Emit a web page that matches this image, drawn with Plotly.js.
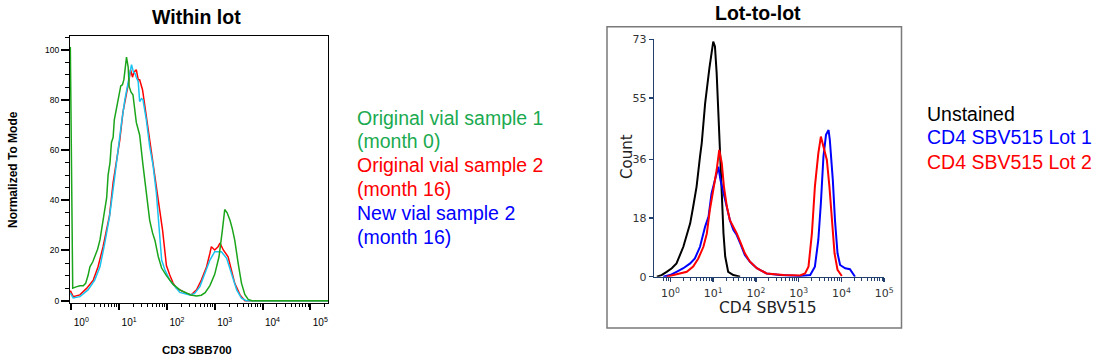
<!DOCTYPE html>
<html><head><meta charset="utf-8">
<script src="https://cdn.plot.ly/plotly-3.0.1.min.js"></script>
<style>html,body{margin:0;padding:0;background:#fff}#chart{width:1101px;height:362px}</style>
</head><body><div id="chart"></div>
<script>
// ---------- DATA (x given as log10 of intensity) ----------
const decadeTicks = [1, 10, 100, 1000, 10000, 100000];
const decadeLabels = ['10<sup>0</sup>','10<sup>1</sup>','10<sup>2</sup>','10<sup>3</sup>','10<sup>4</sup>','10<sup>5</sup>'];
const leftYTicks = [0, 20, 40, 60, 80, 100];
const rightYTicks = [0, 18, 36, 55, 73];

// Within lot (CD3 SBB700), normalized to mode
const greenLog = [-0.02,0.03,0.10,0.18,0.25,0.30,0.35,0.39,0.45,0.49,0.55,0.60,0.665,0.70,0.74,0.77,0.81,0.84,0.875,0.90,0.945,1.00,1.035,1.07,1.10,1.155,1.19,1.21,1.25,1.29,1.33,1.36,1.43,1.47,1.50,1.57,1.64,1.70,1.75,1.82,1.89,1.99,2.06,2.13,2.27,2.40,2.50,2.62,2.72,2.80,2.90,3.00,3.09,3.16,3.21,3.26,3.32,3.37,3.42,3.49,3.56,3.63,3.70,3.78,4.0,4.5,5.0,5.37];
const greenVal = [101,5,5.5,5.9,5.9,6.9,10,13.5,15.5,17.5,20.5,24.2,32,37,41,50,55,63,65,72,77,82.6,85.5,86,88,97,93,85.3,83,82,76,71,66,58,54,43,32,27,24,17.5,13,10,8,6.5,4.3,3,2.3,1.9,2.2,3.2,6,10.5,17.5,28,36.3,35,32,28.5,24,15,7,2.5,0.5,0,0,0,0,0];

const redLog = [-0.02,0.04,0.18,0.32,0.46,0.56,0.665,0.80,0.875,0.945,1.015,1.08,1.155,1.20,1.24,1.28,1.31,1.36,1.40,1.43,1.49,1.57,1.64,1.68,1.75,1.78,1.85,1.91,1.96,1.99,2.06,2.13,2.20,2.30,2.41,2.51,2.62,2.72,2.83,2.90,2.93,3.00,3.07,3.11,3.18,3.28,3.35,3.42,3.53,3.63,4.0,4.5,5.0,5.37];
const redVal = [4,1.6,2.3,4.9,8.2,13.5,21.5,34,47,55,64,75,82,87,92,89,91,92,88,88,84,73,63,58,50,44,36,28,19,14,10.2,7,5,4,2.9,2.3,4.3,8.2,13.5,18.9,21.5,20.2,21.5,22.9,20.2,17.5,12.2,6.9,2.3,0,0,0,0,0];

const cyanLog = [-0.02,0.04,0.18,0.35,0.49,0.60,0.70,0.80,0.90,0.93,0.98,1.05,1.12,1.19,1.26,1.30,1.33,1.36,1.40,1.43,1.47,1.50,1.57,1.64,1.71,1.78,1.84,1.89,1.96,2.06,2.20,2.27,2.48,2.58,2.69,2.79,2.90,3.00,3.14,3.25,3.35,3.46,3.56,3.66,4.0,4.5,5.0,5.37];
const cyanVal = [3,1.1,1.6,4.3,8.2,13.5,22.8,33.5,48,53,61.4,70.7,80,86.6,94,91,90.6,89,87.2,79.3,80.5,80,72,61.4,54,42.8,27,16.2,12.2,8.2,4.9,3.3,2.3,2.9,5.6,10.9,16.2,19.5,19.5,16.9,10.9,4.3,1,0,0,0,0,0];

// Lot-to-lot (CD4 SBV515), count
const blackLog = [-0.32,-0.21,-0.09,0.03,0.14,0.22,0.30,0.38,0.46,0.53,0.61,0.69,0.73,0.81,0.85,0.91,0.96,1.00,1.04,1.08,1.12,1.16,1.20,1.24,1.28,1.35,1.47,1.63];
const blackVal = [0,0.5,1.5,2.6,4.1,6.7,9.2,12.8,16.4,21.5,27.7,36.9,41,53.3,58.5,64.1,68.7,72.3,70.8,62.6,50.3,37.9,24.6,13.3,6.2,1.5,0.5,0];

const lot1Log = [-0.17,-0.01,0.14,0.30,0.46,0.57,0.69,0.81,0.89,0.96,1.04,1.10,1.12,1.17,1.24,1.32,1.39,1.47,1.55,1.63,1.74,1.86,2.02,2.25,2.56,3.03,3.27,3.38,3.46,3.52,3.58,3.64,3.70,3.73,3.80,3.85,3.91,3.97,4.09,4.20,4.27,4.32];
const lot1Val = [0,0.5,1.5,2.6,4.1,5.6,9.2,15.4,18.5,25.6,29.7,32.3,33.8,29.7,25.6,21.5,17.4,14.4,12.8,10.3,6.7,4.6,2.6,1,0.5,0.2,0.5,3.1,11.3,22.6,36.9,43.6,45.1,42,29.7,17.4,7.2,3.6,2.6,2.3,1,0];

const lot2Log = [-0.09,0.07,0.22,0.38,0.53,0.65,0.77,0.85,0.92,1.00,1.08,1.14,1.20,1.25,1.32,1.39,1.47,1.55,1.63,1.74,1.86,2.02,2.25,2.64,3.03,3.15,3.23,3.31,3.38,3.46,3.52,3.58,3.66,3.72,3.78,3.84,3.91,4.01];
const lot2Val = [0,0.5,1,1.5,3.1,5.6,9.2,13.3,20.5,26.7,32.8,39,34.9,27.7,21.5,17.4,15.4,13.3,10.8,7.2,4.6,2.6,1,0.5,0.4,1,3.1,13.3,27.7,37.9,43.1,40,35.9,27.7,17.4,7.2,2.1,0.2];

const leftLegend = ['Original vial sample 1','(month 0)','Original vial sample 2','(month 16)','New vial sample 2','(month 16)'];
const leftLegendColors = ['#1aaa50','#1aaa50','#ff0000','#ff0000','#0000ff','#0000ff'];
const rightLegend = ['Unstained','CD4 SBV515 Lot 1','CD4 SBV515 Lot 2'];
const rightLegendColors = ['#000000','#0000ff','#ff0000'];

// ---------- helpers ----------
const W = 1101, H = 362;
const px = v => v / W;
const py = v => 1 - v / H;
const pow10 = a => a.map(v => Math.pow(10, v));
const minorLog = [];
for (let d = 0; d < 6; d++) for (let m = 2; m <= 9; m++) minorLog.push(m * Math.pow(10, d));
minorLog.unshift(0.7, 0.8, 0.9);

const traces = [
  {x: pow10(redLog), y: redVal, xaxis:'x', yaxis:'y', mode:'lines', line:{color:'#ff0000', width:1.5}},
  {x: pow10(cyanLog), y: cyanVal, xaxis:'x', yaxis:'y', mode:'lines', line:{color:'#19c3f0', width:1.5}},
  {x: pow10(greenLog), y: greenVal, xaxis:'x', yaxis:'y', mode:'lines', line:{color:'#1aa51a', width:1.5}},
  {x: pow10(blackLog), y: blackVal, xaxis:'x2', yaxis:'y2', mode:'lines', line:{color:'#000000', width:2}},
  {x: pow10(lot1Log), y: lot1Val, xaxis:'x2', yaxis:'y2', mode:'lines', line:{color:'#0000ff', width:2}},
  {x: pow10(lot2Log), y: lot2Val, xaxis:'x2', yaxis:'y2', mode:'lines', line:{color:'#ff0000', width:2}}
];

const leftYFont = {family:'Liberation Sans, Arial, sans-serif', size:8.5, color:'#000'};
const leftXFont = {family:'Liberation Sans, Arial, sans-serif', size:10, color:'#000'};
const rightFont = {family:'DejaVu Sans, Verdana, sans-serif', size:11, color:'#333'};
const navy = '#22406e';

const annotations = [
  {text:'<b>Within lot</b>', x:px(196), y:py(17), font:{family:'Liberation Sans, Arial', size:19.5, color:'#000'}},
  {text:'<b>Lot-to-lot</b>', x:px(758), y:py(13), font:{family:'Liberation Sans, Arial', size:19.5, color:'#000'}},
  {text:'<b>Normalized To Mode</b>', x:px(13), y:py(170), textangle:-90, font:{family:'Liberation Sans, Arial', size:12, color:'#000'}},
  {text:'<b>CD3 SBB700</b>', x:px(197), y:py(350), font:{family:'Liberation Sans, Arial', size:11.5, color:'#000'}},
  {text:'Count', x:px(627), y:py(157), textangle:-90, font:{family:'DejaVu Sans, Verdana', size:15, color:'#222'}},
  {text:'CD4 SBV515', x:px(768), y:py(308), font:{family:'DejaVu Sans, Verdana', size:15.5, color:'#222'}}
];
leftLegend.forEach((t, i) => annotations.push({text:t, x:px(355), y:py(117.7 + i*23.8), xanchor:'left',
  font:{family:'Liberation Sans, Arial', size:19.5, color:leftLegendColors[i]}}));
rightLegend.forEach((t, i) => annotations.push({text:t, x:px(925), y:py(113.5 + i*24), xanchor:'left',
  font:{family:'Liberation Sans, Arial', size:19.5, color:rightLegendColors[i]}}));
annotations.forEach(a => { a.xref='paper'; a.yref='paper'; a.showarrow=false;
  if(!a.xanchor) a.xanchor='center'; a.yanchor='middle'; });

const layout = {
  width: W, height: H, margin:{l:0,r:0,t:0,b:0}, paper_bgcolor:'#fff', plot_bgcolor:'rgba(0,0,0,0)',
  showlegend:false,
  xaxis:{type:'log', domain:[px(70), px(328)], range:[-0.027, 5.37], showgrid:false, zeroline:false,
    showline:true, mirror:true, linecolor:'#000', linewidth:1,
    tickmode:'array', tickvals:decadeTicks, ticktext:decadeLabels, ticks:'outside', ticklen:6, tickwidth:2, tickcolor:'#000',
    ticklabelshift:10, ticklabelstandoff:4, tickfont:leftXFont,
    minor:{tickmode:'array', tickvals:minorLog, ticks:'outside', ticklen:3, tickwidth:1, tickcolor:'#000', showgrid:false}},
  yaxis:{domain:[py(302.7), py(36)], range:[-0.8, 105.4], showgrid:false, zeroline:false,
    showline:true, mirror:true, linecolor:'#000', linewidth:1,
    tickmode:'array', tickvals:leftYTicks, ticks:'outside', ticklen:8, tickwidth:2, tickcolor:'#000', tickfont:leftYFont,
    minor:{dtick:5, ticks:'outside', ticklen:4, tickwidth:1, tickcolor:'#000', showgrid:false}},
  xaxis2:{type:'log', anchor:'y2', domain:[px(654.3), px(884.3)], range:[-0.38, 5.005], showgrid:false, zeroline:false,
    showline:true, linecolor:navy, linewidth:1.5,
    tickmode:'array', tickvals:decadeTicks, ticktext:decadeLabels, ticks:'outside', ticklen:4, tickwidth:1.5, tickcolor:navy,
    tickfont:rightFont, ticklabelstandoff:2,
    minor:{tickmode:'array', tickvals:minorLog, ticks:'outside', ticklen:3, tickwidth:1, tickcolor:navy, showgrid:false}},
  yaxis2:{anchor:'x2', domain:[py(276.7), py(39.3)], range:[0, 73], showgrid:false, zeroline:false,
    showline:true, linecolor:navy, linewidth:1.5,
    tickmode:'array', tickvals:rightYTicks, ticks:'outside', ticklen:4, tickwidth:1.5, tickcolor:navy, tickfont:rightFont},
  shapes:[{type:'rect', xref:'paper', yref:'paper', x0:px(607), x1:px(901.5), y0:py(328), y1:py(26.8),
    line:{color:'#7a7a7a', width:1.5}, fillcolor:'rgba(0,0,0,0)'}],
  annotations: annotations
};

Plotly.newPlot('chart', traces, layout, {staticPlot:true, displayModeBar:false});
</script></body></html>
